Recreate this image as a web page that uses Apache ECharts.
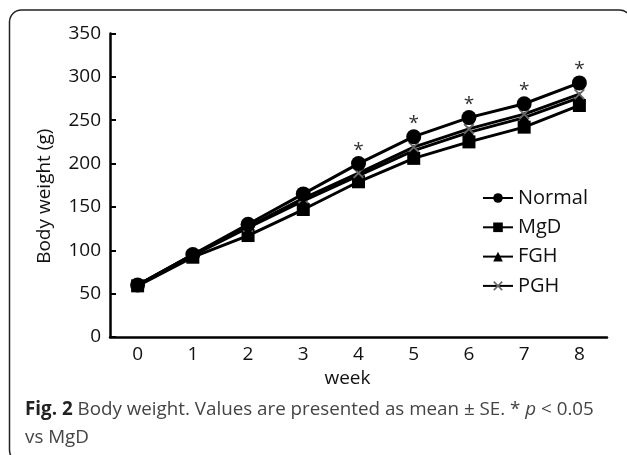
<!DOCTYPE html>
<html><head><meta charset="utf-8">
<script src="https://cdn.jsdelivr.net/npm/echarts@6/dist/echarts.min.js"></script>
<style>html,body{margin:0;padding:0;background:#fff}#c{width:627px;height:455px}</style>
</head><body><div id="c"></div>
<script>
const weeks = ['0','1','2','3','4','5','6','7','8'];
const normal = [60, 95, 130, 165, 200, 231, 253, 269, 293];
const mgd = [59, 92, 117, 147, 179, 206, 225, 242, 267];
const fgh = [60, 94, 126, 157, 186, 215, 236, 253, 276];
const pgh = [60, 95, 127, 160, 189, 219, 240, 257, 280];
const sigWeeks = [4, 5, 6, 7, 8];
const yTicks = [0, 50, 100, 150, 200, 250, 300, 350];

const chart = echarts.init(document.getElementById('c'));
const font = '"Open Sans", sans-serif';
const xPath = 'path://M0,1.2L1.2,0L5,3.8L8.8,0L10,1.2L6.2,5L10,8.8L8.8,10L5,6.2L1.2,10L0,8.8L3.8,5Z';
function mk(name, data, symbol, size, color) {
  return {
    name, type: 'line', data, symbol, symbolSize: size,
    lineStyle: {color: '#000', width: 3},
    itemStyle: {color: color},
    emphasis: {disabled: true}
  };
}
const normalData = normal.map((v, i) => ({
  value: v,
  label: {show: sigWeeks.includes(i)}
}));
const sNormal = mk('Normal', normalData, 'circle', 15, '#000');
sNormal.label = {show: false, position: 'top', distance: 5, offset: [0, 9], formatter: '*', fontSize: 19, color: '#333', fontFamily: font};
sNormal.z = 5;
chart.setOption({
  animation: false,
  grid: {left: 110, right: 20, top: 33.5, bottom: 118},
  legend: {
    orient: 'vertical', left: 477, top: 183,
    itemWidth: 30, itemHeight: 12, itemGap: 9.3,
    textStyle: {fontSize: 20, color: '#111', fontFamily: font, padding: [0,0,0,0]},
    data: ['Normal', 'MgD', 'FGH', 'PGH']
  },
  xAxis: {
    type: 'category', data: weeks, boundaryGap: true,
    name: 'week', nameLocation: 'middle', nameGap: 30,
    nameTextStyle: {fontSize: 19, color: '#111', fontFamily: font, padding: [0, 22, 0, 0]},
    axisLine: {lineStyle: {color: '#000', width: 2.5}},
    axisTick: {show: false},
    axisLabel: {fontSize: 19, color: '#111', fontFamily: font, margin: 8}
  },
  yAxis: {
    type: 'value', min: 0, max: 350, interval: 50,
    name: 'Body weight (g)', nameLocation: 'middle', nameGap: 56,
    nameTextStyle: {fontSize: 19, color: '#111', fontFamily: font, padding: [0, 0, 0, -22]},
    axisLine: {show: true, lineStyle: {color: '#000', width: 2.5}},
    axisTick: {show: true, inside: true, length: 6, lineStyle: {color: '#000', width: 2}},
    splitLine: {show: false},
    axisLabel: {fontSize: 19, color: '#111', fontFamily: font, margin: 9,
      formatter: v => yTicks.includes(v) ? String(v) : ''}
  },
  graphic: [
    {type: 'rect', shape: {x: 9.5, y: 10, width: 622, height: 452, r: 12},
     style: {fill: 'none', stroke: '#222', lineWidth: 1.5}, silent: true},
    {type: 'text', left: 25, top: 400,
     style: {text: '{b|Fig. 2} Body weight. Values are presented as mean ± SE. * {i|p} < 0.05', fontSize: 18.8, fill: '#444', fontFamily: font,
       rich: {b: {fontWeight: 'bold', fontSize: 18.8, fill: '#222', fontFamily: font}, i: {fontStyle: 'italic', fontSize: 18.8, fill: '#444', fontFamily: font}}}},
    {type: 'text', left: 25, top: 428,
     style: {text: 'vs MgD', fontSize: 18.8, fill: '#444', fontFamily: font}}
  ],
  series: [
    sNormal,
    mk('MgD', mgd, 'rect', 13, '#000'),
    mk('FGH', fgh, 'triangle', 12, '#000'),
    mk('PGH', pgh, xPath, 11, '#666')
  ]
});
</script></body></html>
